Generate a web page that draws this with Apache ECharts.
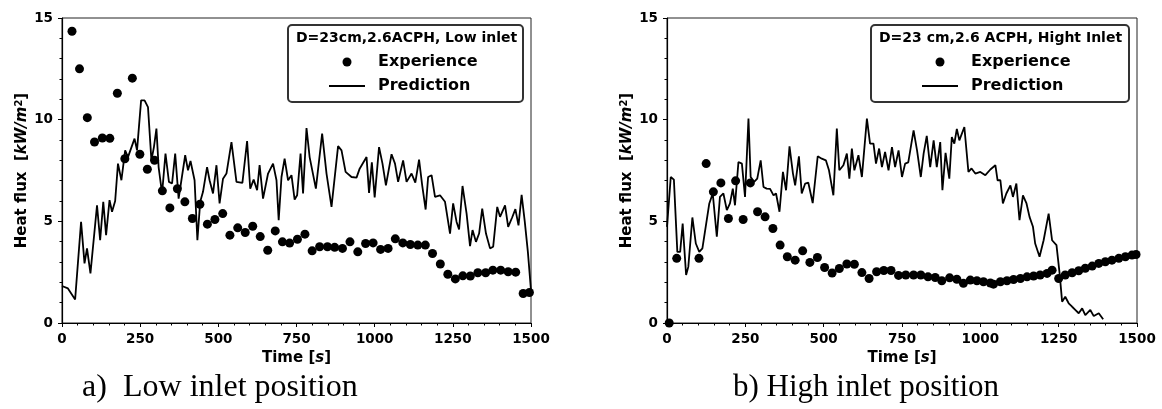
<!DOCTYPE html>
<html lang="en">
<head>
    <meta charset="UTF-8">
    <title>Heat flux</title>
    <style>
        *{
            margin: 0;
            padding: 0;
        }
        body{
            background: #fff;
        }
        .main{
            width: 1162px;
            height: 409px;
        }
    </style>
    <script src="https://cdn.jsdelivr.net/npm/echarts@6/dist/echarts.min.js"></script>
</head>
<body>
<div class="main"></div>
<script>
    // a) low inlet
    let lowExpTime = [32,56,81,104,129,153,177,201,225,249,
        273,296,321,345,369,393,417,441,465,489,
        514,537,562,586,610,634,658,682,705,728,
        753,777,800,824,849,872,897,921,946,971,
        995,1019,1043,1066,1090,1114,1138,1162,1185,1210,
        1234,1258,1282,1306,1330,1355,1378,1403,1427,1451,
        1475,1495];
    let lowExpFlux = [14.35,12.5,10.1,8.9,9.1,9.08,11.3,8.08,12.04,8.3,
        7.56,8.0,6.5,5.66,6.6,5.96,5.14,5.84,4.86,5.09,
        5.38,4.32,4.68,4.45,4.76,4.25,3.58,4.53,3.99,3.93,
        4.12,4.37,3.55,3.75,3.75,3.72,3.67,3.99,3.5,3.91,
        3.94,3.62,3.67,4.14,3.94,3.86,3.83,3.83,3.42,2.9,
        2.4,2.17,2.32,2.31,2.47,2.47,2.6,2.6,2.52,2.5,
        1.45,1.5];
    let lowPredTime = [0,19,42,61,72,80,91,112,122,132,
        141,152,160,170,179,190,202,211,232,240,
        253,264,275,286,294,302,309,320,331,342,
        352,362,373,394,403,411,424,433,442,451,
        464,472,483,494,504,515,526,542,558,577,
        592,602,613,624,632,643,659,675,686,693,
        702,712,723,734,744,752,763,771,782,792,
        812,832,846,862,883,894,907,926,942,952,
        974,982,991,1000,1014,1025,1036,1054,1065,1075,
        1091,1102,1118,1130,1142,1152,1163,1171,1182,1193,
        1209,1225,1241,1251,1262,1270,1281,1294,1305,1313,
        1324,1334,1344,1356,1369,1379,1392,1401,1417,1427,
        1440,1450,1460,1470,1480,1490,1500];
    let lowPredFlux = [1.82,1.70,1.16,4.97,2.93,3.67,2.44,5.79,4.07,5.96,
        4.32,6.04,5.47,6.0,7.84,7.02,8.49,8.16,9.07,8.49,
        10.95,10.95,10.62,8.0,8.65,9.56,7.67,6.37,8.33,6.94,
        6.86,8.33,6.12,8.25,7.51,7.97,7.02,4.07,5.96,6.45,
        7.67,7.02,6.37,7.76,5.88,7.1,7.35,8.9,6.94,6.89,
        8.95,6.61,7.05,6.53,7.76,6.12,7.35,7.84,7.02,5.06,
        7.18,8.08,7.02,7.27,6.07,6.28,8.33,6.37,9.59,8.16,
        6.61,9.31,7.35,5.71,8.7,8.49,7.43,7.18,7.15,7.59,
        8.16,6.4,7.9,6.17,8.65,7.84,6.77,8.3,7.84,6.94,
        8.0,6.94,7.35,6.9,8.04,6.77,5.58,7.18,7.27,6.2,
        6.28,5.96,4.4,5.88,4.97,4.6,6.74,5.38,3.78,4.57,
        3.99,4.4,5.63,4.4,3.67,3.75,5.71,5.22,5.79,4.73,
        5.2,5.6,4.8,6.3,5.0,3.5,1.6];

    // b) high inlet
    let highExpTime = [7,31,102,125,148,172,196,219,243,266,
        289,313,338,361,384,409,433,456,480,503,
        527,550,574,598,622,645,669,692,715,739,
        762,787,810,833,856,877,902,925,946,968,
        989,1010,1032,1042,1064,1085,1106,1128,1149,1170,
        1191,1213,1229,1250,1271,1293,1314,1335,1357,1378,
        1399,1420,1442,1463,1484,1497];
    let highExpFlux = [0,3.18,3.18,7.84,6.45,6.89,5.14,6.99,5.09,6.89,
        5.47,5.22,4.65,3.83,3.26,3.09,3.55,2.98,3.22,2.73,
        2.46,2.68,2.9,2.89,2.48,2.19,2.52,2.58,2.58,2.34,
        2.36,2.36,2.36,2.27,2.24,2.08,2.22,2.15,1.95,2.11,
        2.08,2.03,1.97,1.91,2.03,2.08,2.14,2.19,2.27,2.31,
        2.36,2.44,2.6,2.19,2.36,2.47,2.57,2.69,2.8,2.93,
        3.01,3.09,3.18,3.26,3.34,3.37];
    let highPredTime = [0,12,22,33,42,50,61,68,81,92,
        103,113,135,146,159,169,180,191,201,210,
        217,228,239,249,260,267,278,288,299,308,
        318,329,340,348,359,370,380,391,402,409,
        421,430,441,451,465,481,494,507,517,531,
        542,550,563,574,582,590,598,611,622,638,
        648,659,667,677,686,696,707,718,728,739,
        750,760,770,779,787,798,810,819,829,840,
        851,861,872,879,889,901,909,917,925,933,
        949,962,972,984,1000,1016,1032,1048,1055,1064,
        1072,1083,1096,1104,1115,1125,1136,1147,1157,1168,
        1175,1189,1202,1218,1229,1243,1253,1261,1271,1282,
        1293,1303,1314,1325,1335,1351,1362,1378,1392];
    let highPredFlux = [4.73,7.18,7.05,3.5,3.5,4.89,2.36,2.76,5.19,3.91,
        3.5,3.67,5.88,6.37,4.24,6.2,6.37,5.55,5.88,6.61,
        5.79,7.92,7.84,6.2,10.05,7.18,6.94,7.1,8.0,6.69,
        6.61,6.6,6.28,6.37,5.47,7.43,6.53,8.69,7.35,6.77,
        8.2,6.37,6.86,6.9,5.9,8.2,8.08,8.0,7.51,6.28,
        9.56,7.51,7.76,8.33,7.1,8.58,7.51,8.25,7.18,10.05,
        8.82,8.82,7.84,8.58,7.67,8.41,7.51,8.65,7.67,8.49,
        7.18,7.84,7.9,8.74,9.47,8.49,7.18,8.33,9.2,7.67,
        8.98,7.67,8.9,6.53,8.37,7.1,9.15,8.82,9.55,8.98,
        9.64,7.43,7.6,7.35,7.43,7.27,7.55,7.76,7.02,7.02,
        5.88,6.37,6.77,6.2,6.86,5.06,6.28,5.9,5.22,4.73,
        3.91,3.26,4.07,5.38,4.07,3.83,2.44,1.05,1.29,0.97,
        0.80,0.65,0.48,0.72,0.39,0.64,0.34,0.48,0.18];

    let xTicks = {min: 0, max: 1500, interval: 250};
    let yTicks = {min: 0, max: 15, interval: 5};

    const font = 'DejaVu Sans';

    function pairs(t, q){
        return t.map((v, i) => [v, q[i]]);
    }

    function xAxisFor(i){
        return {
            type: 'value',
            gridIndex: i,
            min: xTicks.min, max: xTicks.max, interval: xTicks.interval,
            name: '{b|Time [}{i|s}{b|]}',
            nameLocation: 'middle',
            nameGap: 28,
            nameTextStyle: {
                rich: {
                    b: {fontFamily: font, fontSize: 15, fontWeight: 'bold', color: '#000'},
                    i: {fontFamily: font, fontSize: 15, fontWeight: 'bold', fontStyle: 'italic', color: '#000'}
                }
            },
            axisLine: {onZero: false, lineStyle: {color: '#000', width: 1.2}},
            axisTick: {length: 4, lineStyle: {color: '#000'}},
            minorTick: {show: true, splitNumber: 5, length: 2.5, lineStyle: {color: '#000'}},
            splitLine: {show: false},
            axisLabel: {fontFamily: font, fontSize: 13.5, fontWeight: 'bold', color: '#000', margin: 9,
                formatter: v => String(v)}
        };
    }

    function yAxisFor(i){
        return {
            type: 'value',
            gridIndex: i,
            min: yTicks.min, max: yTicks.max, interval: yTicks.interval,
            name: '{b|Heat flux  [}{i|kW/m}{s|2}{b|]}',
            nameLocation: 'middle',
            nameGap: 32,
            nameTextStyle: {
                rich: {
                    b: {fontFamily: font, fontSize: 15, fontWeight: 'bold', color: '#000'},
                    i: {fontFamily: font, fontSize: 15, fontWeight: 'bold', fontStyle: 'italic', color: '#000'},
                    s: {fontFamily: font, fontSize: 10, fontWeight: 'bold', color: '#000', verticalAlign: 'top', padding: [0, 0, 6, 0]}
                }
            },
            axisLine: {onZero: false, lineStyle: {color: '#000', width: 1.2}},
            axisTick: {length: 4, lineStyle: {color: '#000'}},
            minorTick: {show: true, splitNumber: 5, length: 2.5, lineStyle: {color: '#000'}},
            splitLine: {show: false},
            axisLabel: {fontFamily: font, fontSize: 13.5, fontWeight: 'bold', color: '#000', margin: 9,
                formatter: v => String(v)}
        };
    }

    function legendFor(left){
        return {
            left: left, top: 54,
            orient: 'vertical',
            itemWidth: 36, itemHeight: 9, itemGap: 8,
            padding: 0,
            selectedMode: false,
            textStyle: {fontFamily: font, fontSize: 16, fontWeight: 'bold', color: '#000', padding: [0, 0, 0, 8]},
            data: [
                {name: 'Experience', icon: 'circle'},
                {name: 'Prediction', icon: 'path://M0,0L40,0L40,2L0,2Z'}
            ]
        };
    }

    function expSeries(i, t, q){
        return {
            name: 'Experience', type: 'scatter',
            xAxisIndex: i, yAxisIndex: i,
            symbolSize: 9,
            itemStyle: {color: '#000', opacity: 1},
            data: pairs(t, q),
            z: 3
        };
    }

    function predSeries(i, t, q){
        return {
            name: 'Prediction', type: 'line',
            xAxisIndex: i, yAxisIndex: i,
            symbol: 'none',
            itemStyle: {color: '#000'},
            lineStyle: {color: '#000', width: 1.8},
            data: pairs(t, q),
            z: 2
        };
    }

    function legendBox(x, w, title){
        return [
            {type: 'rect', z: 3, shape: {x: x, y: 25, width: w, height: 77, r: 4},
                style: {fill: 'rgba(255,255,255,0.85)', stroke: '#333', lineWidth: 2}},
            {type: 'text', z: 4, x: x + 8, y: 38,
                style: {text: title, fontFamily: font, fontSize: 14, fontWeight: 'bold', fill: '#000', verticalAlign: 'middle'}}
        ];
    }

    let main = document.querySelector('.main');
    let chart = echarts.init(main);
    let option = {
        animation: false,
        backgroundColor: '#fff',
        grid: [
            {left: 62, top: 18, width: 469, height: 305, show: true, borderColor: '#222', borderWidth: 1, backgroundColor: 'transparent', containLabel: false, outerBoundsMode: 'none'},
            {left: 667, top: 18, width: 470, height: 305, show: true, borderColor: '#222', borderWidth: 1, backgroundColor: 'transparent', containLabel: false, outerBoundsMode: 'none'}
        ],
        xAxis: [xAxisFor(0), xAxisFor(1)],
        yAxis: [yAxisFor(0), yAxisFor(1)],
        legend: [legendFor(329), legendFor(922)],
        series: [
            predSeries(0, lowPredTime, lowPredFlux),
            expSeries(0, lowExpTime, lowExpFlux),
            predSeries(1, highPredTime, highPredFlux),
            expSeries(1, highExpTime, highExpFlux)
        ],
        graphic: [].concat(
            legendBox(288, 235, 'D=23cm,2.6ACPH, Low inlet'),
            legendBox(871, 258, 'D=23 cm,2.6 ACPH, Hight Inlet'),
            [
                {type: 'text', x: 82, y: 388, style: {text: 'a)', fontFamily: 'Liberation Serif', fontSize: 32, fill: '#000', verticalAlign: 'middle'}},
                {type: 'text', x: 123, y: 388, style: {text: 'Low inlet position', fontFamily: 'Liberation Serif', fontSize: 32, fill: '#000', verticalAlign: 'middle'}},
                {type: 'text', x: 733, y: 388, style: {text: 'b) High inlet position', fontFamily: 'Liberation Serif', fontSize: 31, fill: '#000', verticalAlign: 'middle'}}
            ]
        )
    };
    chart.setOption(option);
</script>
</body>
</html>
